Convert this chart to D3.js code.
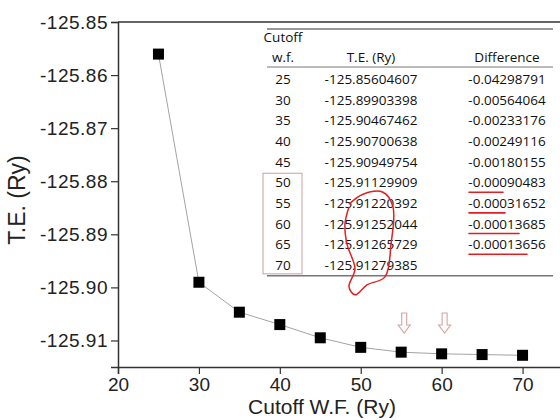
<!DOCTYPE html>
<html>
<head>
<meta charset="utf-8">
<script src="https://cdn.jsdelivr.net/npm/d3@7"></script>
<style>
  body { margin: 0; background: #fff; }
  svg { display: block; }
</style>
</head>
<body>
<div id="chart"></div>
<script>
'use strict';

// cutoff wave-function energies (Ry) and total energies
var cutoffs = [25, 30, 35, 40, 45, 50, 55, 60, 65, 70];
var totalEnergy = [-125.85604607, -125.89903398, -125.90467462, -125.90700638, -125.90949754,
                   -125.91129909, -125.91220392, -125.91252044, -125.91265729, -125.91279385];
var teLabels = ['-125.85604607', '-125.89903398', '-125.90467462', '-125.90700638', '-125.90949754',
                '-125.91129909', '-125.91220392', '-125.91252044', '-125.91265729', '-125.91279385'];
var diffLabels = ['-0.04298791', '-0.00564064', '-0.00233176', '-0.00249116', '-0.00180155',
                  '-0.00090483', '-0.00031652', '-0.00013685', '-0.00013656', ''];
var xTicks = [20, 30, 40, 50, 60, 70];
var yTicks = [-125.85, -125.86, -125.87, -125.88, -125.89, -125.90, -125.91];
var markedCutoffs = [55, 60];
var underlinedRows = [5, 6, 7, 8];

var width = 560, height = 420;
var svg = d3.select('#chart').append('svg')
  .attr('width', width).attr('height', height);

var x = d3.scaleLinear().domain([20, 75]).range([118, 563]);
var y = d3.scaleLinear().domain([-125.915, -125.85]).range([367, 22]);

var axisFont = 'Liberation Sans, Arial, sans-serif';
var tableFont = 'Open Sans, Lato, sans-serif';
var hyphenFmt = d3.formatLocale({ decimal: '.', thousands: ',', grouping: [3], currency: ['', ''], minus: '-' }).format('.2f');

// top frame line
svg.append('line')
  .attr('x1', x(20)).attr('x2', width)
  .attr('y1', y.range()[1]).attr('y2', y.range()[1])
  .attr('stroke', '#666').attr('stroke-width', 2);

// x axis
var xAxis = svg.append('g').attr('transform', 'translate(0,' + y.range()[0] + ')');
xAxis.call(d3.axisBottom(x).tickValues(d3.range(25, 75, 10)).tickSize(4).tickFormat(''));
xAxis.call(d3.axisBottom(x).tickValues(xTicks).tickSize(7).tickFormat(d3.format('d')));
xAxis.selectAll('.domain').attr('stroke', '#333').attr('stroke-width', 1.5);
xAxis.selectAll('.tick line').attr('stroke', '#333').attr('stroke-width', 1.2);
xAxis.selectAll('.tick text')
  .attr('font-family', axisFont).attr('font-size', 19).attr('fill', '#222').attr('dy', '0.72em');

// y axis
var yAxis = svg.append('g').attr('transform', 'translate(' + x(20) + ',0)');
yAxis.call(d3.axisLeft(y).tickValues(yTicks.map(function (v) { return v - 0.005; })).tickSize(4).tickFormat(''));
yAxis.call(d3.axisLeft(y).tickValues(yTicks).tickSize(7).tickFormat(hyphenFmt));
yAxis.selectAll('.domain').attr('stroke', '#333').attr('stroke-width', 1.5);
yAxis.selectAll('.tick line').attr('stroke', '#333').attr('stroke-width', 1.2);
yAxis.selectAll('.tick text')
  .attr('font-family', axisFont).attr('font-size', 19).attr('fill', '#222').attr('x', -10)
  .attr('letter-spacing', 0.5);

// axis titles
svg.append('text')
  .attr('transform', 'translate(25,200) rotate(-90)')
  .attr('text-anchor', 'middle')
  .attr('font-family', axisFont).attr('font-size', 23).attr('fill', '#222')
  .text('T.E. (Ry)');
svg.append('text')
  .attr('x', 322).attr('y', 414)
  .attr('text-anchor', 'middle')
  .attr('font-family', axisFont).attr('font-size', 21).attr('fill', '#222')
  .text('Cutoff W.F. (Ry)');

// data line and markers
var points = cutoffs.map(function (c, i) { return { c: c, e: totalEnergy[i] }; });
svg.append('path')
  .datum(points)
  .attr('fill', 'none').attr('stroke', '#999').attr('stroke-width', 0.9)
  .attr('d', d3.line().x(function (d) { return x(d.c); }).y(function (d) { return y(d.e); }));
svg.append('g').selectAll('rect')
  .data(points).join('rect')
  .attr('x', function (d) { return x(d.c) - 5.5; })
  .attr('y', function (d) { return y(d.e) - 5.5; })
  .attr('width', 11).attr('height', 11)
  .attr('fill', '#000');

// pink arrows above the converged points
svg.append('g').selectAll('path')
  .data(markedCutoffs).join('path')
  .attr('fill', 'none').attr('stroke', '#d9a0a0').attr('stroke-width', 1.1)
  .attr('d', function (c) {
    var cx = x(c) + 3, top = 313, tip = 333;
    return 'M' + (cx - 2.5) + ',' + top + 'V' + (tip - 8) + 'H' + (cx - 6) +
      'L' + cx + ',' + tip + 'L' + (cx + 6) + ',' + (tip - 8) + 'H' + (cx + 2.5) + 'V' + top + 'Z';
  });

// inset table
var tbl = { left: 267, right: 553, top: 29, headRule: 67, firstRow: 79, rowH: 20.65, colX: [283, 371, 507] };
var rowY = function (i) { return tbl.firstRow + i * tbl.rowH; };
var bottomRule = rowY(cutoffs.length - 1) + 11;
var table = svg.append('g')
  .attr('font-family', tableFont).attr('font-size', 13.5).attr('fill', '#111')
  .attr('text-anchor', 'middle');

[tbl.top, tbl.headRule, bottomRule].forEach(function (yy, k) {
  table.append('line')
    .attr('x1', tbl.left).attr('x2', tbl.right).attr('y1', yy).attr('y2', yy)
    .attr('stroke', '#777').attr('stroke-width', k === 1 ? 1.2 : 1.5);
});

table.append('text').attr('x', tbl.colX[0]).attr('y', 42).text('Cutoff');
table.append('text').attr('x', tbl.colX[0]).attr('y', 62).text('w.f.');
table.append('text').attr('x', tbl.colX[1]).attr('y', 62).text('T.E. (Ry)');
table.append('text').attr('x', tbl.colX[2]).attr('y', 62).text('Difference');

cutoffs.forEach(function (c, i) {
  var yy = rowY(i) + 5;
  table.append('text').attr('x', tbl.colX[0]).attr('y', yy).text(c);
  table.append('text').attr('x', tbl.colX[1]).attr('y', yy).text(teLabels[i]);
  if (diffLabels[i]) table.append('text').attr('x', tbl.colX[2]).attr('y', yy).text(diffLabels[i]);
});

// hand annotations: box around converged cutoffs, underlines, loop
svg.append('rect')
  .attr('x', tbl.colX[0] - 20).attr('y', rowY(5) - 9)
  .attr('width', 39).attr('height', rowY(9) - rowY(5) + 18)
  .attr('fill', 'none').attr('stroke', '#c9a0a0').attr('stroke-width', 1);

var underlineLen = [34, 36, 50, 58];
svg.append('g').selectAll('line')
  .data(underlinedRows).join('line')
  .attr('x1', tbl.colX[2] - 38)
  .attr('x2', function (r, k) { return tbl.colX[2] - 38 + underlineLen[k]; })
  .attr('y1', function (r) { return rowY(r) + 10; })
  .attr('y2', function (r) { return rowY(r) + 10; })
  .attr('stroke', '#e02020').attr('stroke-width', 1.6).attr('stroke-linecap', 'round');

var cx0 = tbl.colX[1];
var loopPts = [
  [cx0 - 22, rowY(5) + 22], [cx0 - 8, rowY(5) + 12], [cx0 + 12, rowY(5) + 10],
  [cx0 + 22, rowY(6) + 4], [cx0 + 20, rowY(8)], [cx0 + 14, rowY(9) + 12],
  [cx0 - 4, rowY(9) + 20], [cx0 - 16, rowY(9) + 30], [cx0 - 22, rowY(9) + 22],
  [cx0 - 16, rowY(9) + 4], [cx0 - 24, rowY(8)], [cx0 - 26, rowY(7)],
  [cx0 - 22, rowY(6) + 4]
];
svg.append('path')
  .attr('fill', 'none').attr('stroke', '#e02020').attr('stroke-width', 1.5)
  .attr('d', d3.line().curve(d3.curveCatmullRom)(loopPts));
</script>
</body>
</html>
